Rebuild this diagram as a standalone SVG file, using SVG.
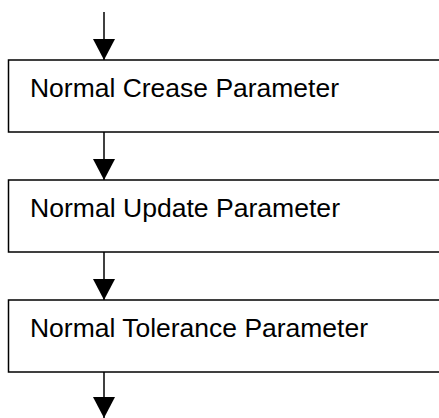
<svg xmlns="http://www.w3.org/2000/svg" width="439" height="418" viewBox="0 0 439 418">
<style>
.box{fill:#fff;stroke:#000;stroke-width:1.5}
.lbl{font-family:"Liberation Sans",Arial,sans-serif;font-size:25px;fill:#000}
.c{stroke:#000;stroke-width:1.5;fill:none}
</style>
<defs>
<marker id="ah" markerUnits="userSpaceOnUse" markerWidth="22" markerHeight="24" refX="21" refY="11" orient="auto">
<path d="M0,0 L21,11 L0,22 Z" fill="#000"/>
</marker>
</defs>
<g id="connectors">
<line class="c" x1="104" y1="12" x2="104" y2="60" marker-end="url(#ah)"/>
<line class="c" x1="104" y1="132" x2="104" y2="180" marker-end="url(#ah)"/>
<line class="c" x1="104" y1="252" x2="104" y2="300" marker-end="url(#ah)"/>
<line class="c" x1="104" y1="372" x2="104" y2="418" marker-end="url(#ah)"/>
</g>
<g id="node1">
<rect class="box" x="8.5" y="60" width="440" height="72"/>
<text class="lbl" x="30" y="96.7" textLength="309" lengthAdjust="spacingAndGlyphs">Normal Crease Parameter</text>
</g>
<g id="node2">
<rect class="box" x="8.5" y="180" width="440" height="72"/>
<text class="lbl" x="30" y="216.7" textLength="310" lengthAdjust="spacingAndGlyphs">Normal Update Parameter</text>
</g>
<g id="node3">
<rect class="box" x="8.5" y="300" width="440" height="72"/>
<text class="lbl" x="30" y="336.7" textLength="338" lengthAdjust="spacingAndGlyphs">Normal Tolerance Parameter</text>
</g>
</svg>
